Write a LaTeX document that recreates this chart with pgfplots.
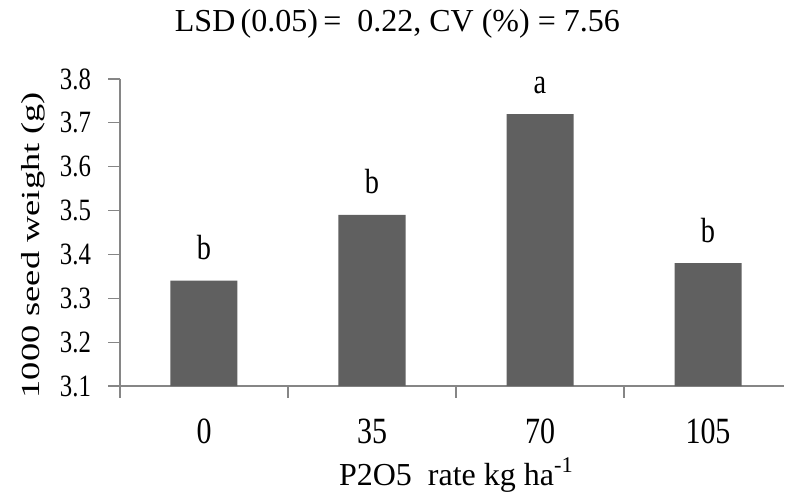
\documentclass[border=0pt]{standalone}
\usepackage{pgfplots}
\pgfplotsset{compat=1.18}
\usepackage{pgfplotstable}
\usepackage{fontspec}
\setmainfont{Liberation Serif}
\newfontfamily\xtickfont{Liberation Serif}[FakeStretch=0.81]
\newfontfamily\ytickfont{Liberation Serif}[FakeStretch=0.8]
\newfontfamily\ylabfont{Liberation Serif}[FakeStretch=1.4]
\definecolor{barc}{RGB}{96,96,96}
\definecolor{axc}{RGB}{134,134,134}
\pgfplotstableread{
x y lab
0 3.34 b
1 3.49 b
2 3.72 a
3 3.38 b
}\datatable
\begin{document}
\begin{tikzpicture}
\path[use as bounding box] (-60pt,-56.5pt) rectangle (333.5pt,193pt);
\begin{axis}[
  at={(0,0)}, anchor=south west,
  scale only axis, width=331.8pt, height=153.5pt,
  xmin=-0.5, xmax=3.45, ymin=3.1, ymax=3.8,
  axis lines*=left,
  axis line style={draw=axc, line width=0.6pt},
  tick align=outside,
  tick style={draw=axc, line width=0.6pt},
  major tick length=5.8pt,
  xtick={-0.5,0.5,1.5,2.5}, xticklabels={},
  extra x ticks={0,1,2,3},
  extra x tick labels={0,35,70,105},
  extra x tick style={major tick length=0pt, tick style={draw=none}},
  xticklabel style={font=\xtickfont\fontsize{18.5}{18.5}\selectfont, anchor=base, inner sep=0pt, yshift=-28.5pt},
  ytick={3.1,3.2,3.3,3.4,3.5,3.6,3.7,3.8},
  yticklabels={3.1,3.2,3.3,3.4,3.5,3.6,3.7,3.8},
  yticklabel style={font=\ytickfont\fontsize{15.5}{15.5}\selectfont, anchor=east, inner sep=0pt, xshift=-8.5pt},
  ylabel={1000 seed weight (g)},
  ylabel style={font=\ylabfont\fontsize{13}{13}\selectfont, at={(axis description cs:-0.131,0.459)}, anchor=center},
  xlabel={P2O5\ \ rate kg ha\textsuperscript{-1}},
  xlabel style={font=\fontsize{16}{16}\selectfont, at={(axis description cs:0.507,-0.3225)}, anchor=base},
  title={LSD\,(0.05)\,=\ \ 0.22, CV (\%) = 7.56},
  title style={font=\fontsize{16}{16}\selectfont, at={(axis description cs:0.418,1.163)}, anchor=base, inner sep=0pt, yshift=-7.5pt},
  clip mode=individual,
]
\addplot[ybar, fill=barc, draw=none, bar width=33.5pt,
  nodes near coords, point meta=explicit symbolic,
  every node near coord/.append style={font=\xtickfont\fontsize{17.5}{17.5}\selectfont, anchor=base, inner sep=0pt, yshift=10.5pt, text=black}]
  table[x=x, y=y, meta=lab]{\datatable};
\end{axis}
\end{tikzpicture}
\end{document}
